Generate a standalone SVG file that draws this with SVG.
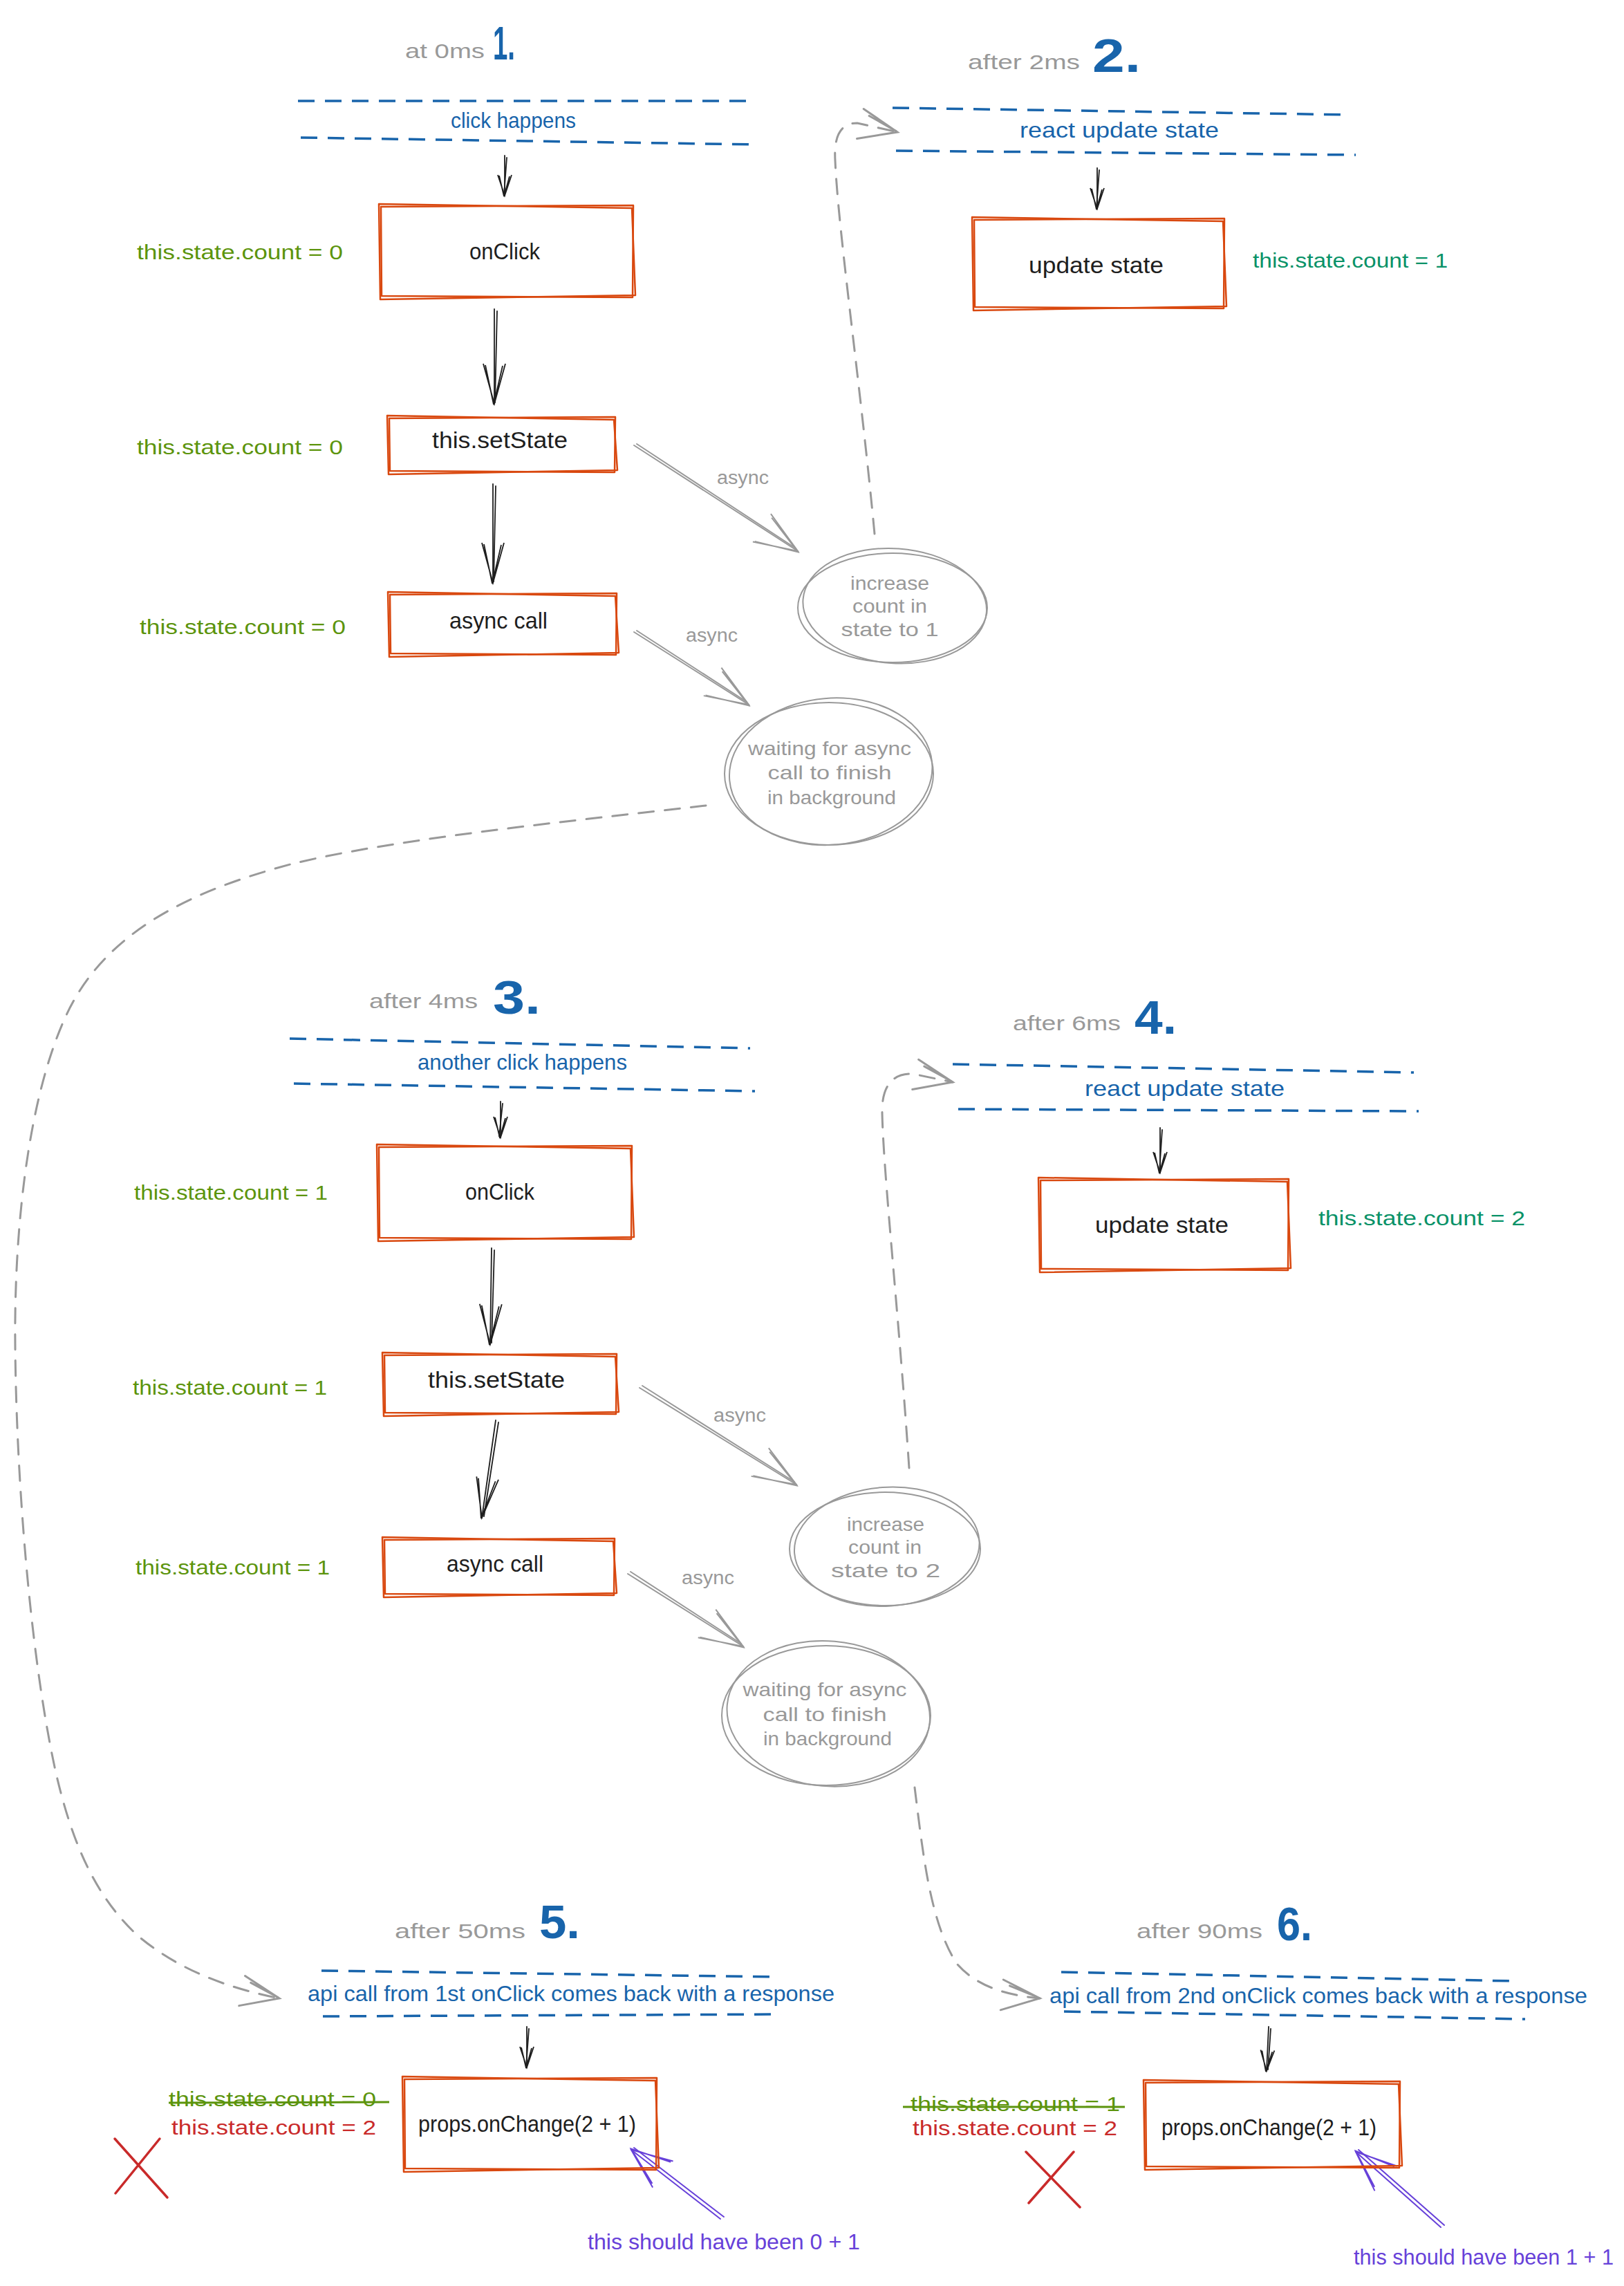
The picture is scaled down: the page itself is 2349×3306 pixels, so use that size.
<svg xmlns="http://www.w3.org/2000/svg" width="2349" height="3306" viewBox="0 0 2349 3306">
<defs>
<style>
text{font-family:"Liberation Sans",Arial,sans-serif}
.hdr{fill:#999;font-size:30px}
.num{fill:#1864ab;font-size:68px;font-weight:700}
.bl{fill:#1864ab;font-size:32px}
.bx{fill:#1e1e1e;font-size:33px}
.gr{fill:#5c940d;font-size:29px}
.tl{fill:#099268;font-size:29px}
.rd{fill:#c92a2a;font-size:29px}
.pu{fill:#6741d9;font-size:31px}
.as{fill:#999;font-size:27px}
.ct{fill:#999;font-size:28px;text-anchor:middle}
.band{fill:none;stroke:#1864ab;stroke-width:3.5;stroke-dasharray:24 15}
.box{fill:none;stroke:#d9480f;stroke-width:2.5;stroke-linejoin:round;stroke-linecap:round}
.circ{fill:none;stroke:#999;stroke-width:2}
.ab{fill:none;stroke:#1e1e1e;stroke-width:1.8;stroke-linecap:round}
.ag{fill:none;stroke:#999;stroke-width:2;stroke-linecap:round}
.dg{fill:none;stroke:#999;stroke-width:3;stroke-dasharray:22 16;stroke-linecap:round}
.ap{fill:none;stroke:#6741d9;stroke-width:2;stroke-linecap:round}
.strike{stroke:#5c940d;stroke-width:3}
.x{stroke:#c92a2a;stroke-width:3.5;stroke-linecap:round}
</style>
<marker id="hbL" markerUnits="userSpaceOnUse" viewBox="-80 -40 90 80" markerWidth="90" markerHeight="80" refX="0" refY="0" orient="auto" overflow="visible">
<path d="M-58,-16 L0,0 L-58,16 M-55,-12 L1,1 L-56,13" fill="none" stroke="#1e1e1e" stroke-width="1.8"/>
</marker>
<marker id="hbS" markerUnits="userSpaceOnUse" viewBox="-80 -40 90 80" markerWidth="90" markerHeight="80" refX="0" refY="0" orient="auto" overflow="visible">
<path d="M-30,-10 L0,0 L-30,10 M-28,-7 L1,1 L-29,8" fill="none" stroke="#1e1e1e" stroke-width="1.8"/>
</marker>
<marker id="hg" markerUnits="userSpaceOnUse" viewBox="-80 -40 90 80" markerWidth="90" markerHeight="80" refX="0" refY="0" orient="auto" overflow="visible">
<path d="M-62,-24 L0,0 L-62,24 M-58,-20 L1,1 L-60,22" fill="none" stroke="#999" stroke-width="2"/>
</marker>
<marker id="hgd" markerUnits="userSpaceOnUse" viewBox="-80 -40 90 80" markerWidth="90" markerHeight="80" refX="0" refY="0" orient="auto" overflow="visible">
<path d="M-55,-22 L0,0 L-55,22 M-45,-14 L-2,-1" fill="none" stroke="#999" stroke-width="3" stroke-linecap="round"/>
</marker>
<marker id="hp" markerUnits="userSpaceOnUse" viewBox="-80 -40 90 80" markerWidth="90" markerHeight="80" refX="0" refY="0" orient="auto" overflow="visible">
<path d="M-58,-24 L0,0 L-58,24 M-54,-20 L1,1 L-56,21" fill="none" stroke="#6741d9" stroke-width="2"/>
</marker>
</defs>
<rect x="0" y="0" width="2349" height="3306" fill="#ffffff"/>

<!-- connectors -->
<g id="connectors">
<path class="ab" d="M730,225 L730,283" marker-end="url(#hbS)"/><path class="ab" d="M733,228 L729,281"/>
<path class="ab" d="M715,447 L715,584" marker-end="url(#hbL)"/><path class="ab" d="M719,450 L716,582"/>
<path class="ab" d="M713,700 L713,843" marker-end="url(#hbL)"/><path class="ab" d="M717,703 L714,841"/>
<path class="ab" d="M1587,243 L1587,302" marker-end="url(#hbS)"/><path class="ab" d="M1590,246 L1586,300"/>
<path class="ab" d="M724,1593 L724,1645" marker-end="url(#hbS)"/><path class="ab" d="M727,1596 L722,1643"/>
<path class="ab" d="M711,1805 L709,1944" marker-end="url(#hbL)"/><path class="ab" d="M715,1808 L711,1942"/>
<path class="ab" d="M717,2054 L697,2195" marker-end="url(#hbL)"/><path class="ab" d="M721,2057 L700,2193"/>
<path class="ab" d="M1678,1631 L1678,1696" marker-end="url(#hbS)"/><path class="ab" d="M1681,1634 L1677,1694"/>
<path class="ab" d="M762,2931 L762,2990" marker-end="url(#hbS)"/><path class="ab" d="M765,2934 L761,2988"/>
<path class="ab" d="M1835,2931 L1832,2995" marker-end="url(#hbS)"/><path class="ab" d="M1838,2934 L1834,2993"/>

<path class="ag" d="M917,644 L1154,797" marker-end="url(#hg)"/><path class="ag" d="M921,642 L1151,793"/>
<path class="ag" d="M917,914 L1083,1019" marker-end="url(#hg)"/><path class="ag" d="M921,912 L1080,1015"/>
<path class="ag" d="M925,2007 L1152,2147" marker-end="url(#hg)"/><path class="ag" d="M929,2004 L1149,2143"/>
<path class="ag" d="M908,2276 L1075,2381" marker-end="url(#hg)"/><path class="ag" d="M912,2273 L1072,2377"/>

<path class="dg" d="M1265,772 C1245,560 1212,330 1208,232 C1206,196 1216,178 1240,178 L1298,191" marker-end="url(#hgd)"/>
<path class="dg" d="M1021,1165 C800,1190 560,1215 420,1250 C270,1290 150,1350 95,1470 C40,1590 20,1780 22,1950 C24,2150 45,2400 80,2560 C105,2670 140,2745 200,2800 C260,2850 330,2875 404,2890" marker-end="url(#hgd)"/>
<path class="dg" d="M1315,2123 C1300,1900 1278,1700 1276,1610 C1275,1572 1290,1552 1320,1553 L1378,1565" marker-end="url(#hgd)"/>
<path class="dg" d="M1323,2585 C1335,2680 1345,2780 1384,2840 C1410,2870 1450,2885 1504,2890" marker-end="url(#hgd)"/>

<path class="ap" d="M1042,3209 L913,3109" marker-end="url(#hp)"/><path class="ap" d="M1047,3206 L917,3106"/>
<path class="ap" d="M2084,3221 L1961,3112" marker-end="url(#hp)"/><path class="ap" d="M2089,3218 L1965,3109"/>
</g>

<!-- section 1 -->
<g id="s1-title">
<text class="hdr" x="586" y="84" textLength="115" lengthAdjust="spacingAndGlyphs">at 0ms</text>
<text class="num" x="713" y="86" textLength="32" lengthAdjust="spacingAndGlyphs">1.</text>
</g>
<g id="s1-band">
<path class="band" d="M431,146 L1086,146"/>
<path class="band" d="M435,199 L1092,209"/>
<text class="bl" x="652" y="185" textLength="181" lengthAdjust="spacingAndGlyphs">click happens</text>
</g>
<g id="n-onclick-1">
<path class="box" d="M551,299 L916,297 L915,430 L552,428 Z"/>
<path class="box" d="M548,295 L914,301 L919,427 L550,433 Z"/>
<text class="bx" x="679" y="375" textLength="102" lengthAdjust="spacingAndGlyphs">onClick</text>
</g>
<g id="n-setstate-1">
<path class="box" d="M563,605 L890,603 L889,683 L564,681 Z"/>
<path class="box" d="M560,601 L888,607 L893,680 L562,686 Z"/>
<text class="bx" x="625" y="648" textLength="196" lengthAdjust="spacingAndGlyphs">this.setState</text>
</g>
<g id="n-asynccall-1">
<path class="box" d="M564,860 L892,858 L891,947 L565,945 Z"/>
<path class="box" d="M561,856 L890,862 L895,944 L563,950 Z"/>
<text class="bx" x="650" y="909" textLength="142" lengthAdjust="spacingAndGlyphs">async call</text>
</g>
<g id="s1-counts">
<text class="gr" x="198" y="375" textLength="298" lengthAdjust="spacingAndGlyphs">this.state.count = 0</text>
<text class="gr" x="198" y="657" textLength="298" lengthAdjust="spacingAndGlyphs">this.state.count = 0</text>
<text class="gr" x="202" y="917" textLength="298" lengthAdjust="spacingAndGlyphs">this.state.count = 0</text>
<text class="as" x="1037" y="700" textLength="75" lengthAdjust="spacingAndGlyphs">async</text>
<text class="as" x="992" y="928" textLength="75" lengthAdjust="spacingAndGlyphs">async</text>
</g>
<g id="n-increase-1">
<ellipse class="circ" cx="1291" cy="879" rx="137" ry="79"/>
<ellipse class="circ" cx="1294" cy="876" rx="133" ry="83" transform="rotate(4 1291 879)"/>
<text class="ct" x="1287" y="853" textLength="114" lengthAdjust="spacingAndGlyphs">increase</text>
<text class="ct" x="1287" y="886" textLength="108" lengthAdjust="spacingAndGlyphs">count in</text>
<text class="ct" x="1287" y="920" textLength="141" lengthAdjust="spacingAndGlyphs">state to 1</text>
</g>
<g id="n-waiting-1">
<ellipse class="circ" cx="1199" cy="1119" rx="151" ry="103"/>
<ellipse class="circ" cx="1202" cy="1116" rx="147" ry="106" transform="rotate(-5 1199 1119)"/>
<text class="ct" x="1200" y="1092" textLength="236" lengthAdjust="spacingAndGlyphs">waiting for async</text>
<text class="ct" x="1200" y="1127" textLength="179" lengthAdjust="spacingAndGlyphs">call to finish</text>
<text class="ct" x="1203" y="1163" textLength="186" lengthAdjust="spacingAndGlyphs">in background</text>
</g>

<!-- section 2 -->
<g id="s2-title">
<text class="hdr" x="1400" y="100" textLength="162" lengthAdjust="spacingAndGlyphs">after 2ms</text>
<text class="num" x="1580" y="104" textLength="70" lengthAdjust="spacingAndGlyphs">2.</text>
</g>
<g id="s2-band">
<path class="band" d="M1291,156 L1953,166"/>
<path class="band" d="M1296,218 L1961,224"/>
<text class="bl" x="1475" y="199" textLength="288" lengthAdjust="spacingAndGlyphs">react update state</text>
</g>
<g id="n-update-1">
<path class="box" d="M1409,318 L1771,316 L1770,446 L1410,444 Z"/>
<path class="box" d="M1406,314 L1769,320 L1774,443 L1408,449 Z"/>
<text class="bx" x="1488" y="395" textLength="195" lengthAdjust="spacingAndGlyphs">update state</text>
</g>
<g id="s2-count">
<text class="tl" x="1812" y="387" textLength="282" lengthAdjust="spacingAndGlyphs">this.state.count = 1</text>
</g>

<!-- section 3 -->
<g id="s3-title">
<text class="hdr" x="534" y="1458" textLength="157" lengthAdjust="spacingAndGlyphs">after 4ms</text>
<text class="num" x="713" y="1466" textLength="69" lengthAdjust="spacingAndGlyphs">3.</text>
</g>
<g id="s3-band">
<path class="band" d="M419,1502 L1085,1516"/>
<path class="band" d="M425,1567 L1092,1578"/>
<text class="bl" x="604" y="1547" textLength="303" lengthAdjust="spacingAndGlyphs">another click happens</text>
</g>
<g id="n-onclick-2">
<path class="box" d="M548,1659 L914,1657 L913,1792 L549,1790 Z"/>
<path class="box" d="M545,1655 L912,1661 L917,1789 L547,1795 Z"/>
<text class="bx" x="673" y="1735" textLength="100" lengthAdjust="spacingAndGlyphs">onClick</text>
</g>
<g id="n-setstate-2">
<path class="box" d="M556,1960 L892,1958 L891,2045 L557,2043 Z"/>
<path class="box" d="M553,1956 L890,1962 L895,2042 L555,2048 Z"/>
<text class="bx" x="619" y="2007" textLength="198" lengthAdjust="spacingAndGlyphs">this.setState</text>
</g>
<g id="n-asynccall-2">
<path class="box" d="M556,2227 L889,2225 L888,2307 L557,2305 Z"/>
<path class="box" d="M553,2223 L887,2229 L892,2304 L555,2310 Z"/>
<text class="bx" x="646" y="2273" textLength="140" lengthAdjust="spacingAndGlyphs">async call</text>
</g>
<g id="s3-counts">
<text class="gr" x="194" y="1735" textLength="280" lengthAdjust="spacingAndGlyphs">this.state.count = 1</text>
<text class="gr" x="192" y="2017" textLength="281" lengthAdjust="spacingAndGlyphs">this.state.count = 1</text>
<text class="gr" x="196" y="2277" textLength="281" lengthAdjust="spacingAndGlyphs">this.state.count = 1</text>
<text class="as" x="1032" y="2056" textLength="76" lengthAdjust="spacingAndGlyphs">async</text>
<text class="as" x="986" y="2291" textLength="76" lengthAdjust="spacingAndGlyphs">async</text>
</g>
<g id="n-increase-2">
<ellipse class="circ" cx="1280" cy="2240" rx="138" ry="82"/>
<ellipse class="circ" cx="1283" cy="2237" rx="134" ry="86" transform="rotate(-4 1280 2240)"/>
<text class="ct" x="1281" y="2214" textLength="112" lengthAdjust="spacingAndGlyphs">increase</text>
<text class="ct" x="1280" y="2247" textLength="106" lengthAdjust="spacingAndGlyphs">count in</text>
<text class="ct" x="1281" y="2281" textLength="158" lengthAdjust="spacingAndGlyphs">state to 2</text>
</g>
<g id="n-waiting-2">
<ellipse class="circ" cx="1195" cy="2481" rx="151" ry="101"/>
<ellipse class="circ" cx="1198" cy="2478" rx="147" ry="105" transform="rotate(5 1195 2481)"/>
<text class="ct" x="1193" y="2453" textLength="237" lengthAdjust="spacingAndGlyphs">waiting for async</text>
<text class="ct" x="1193" y="2489" textLength="179" lengthAdjust="spacingAndGlyphs">call to finish</text>
<text class="ct" x="1197" y="2524" textLength="186" lengthAdjust="spacingAndGlyphs">in background</text>
</g>

<!-- section 4 -->
<g id="s4-title">
<text class="hdr" x="1465" y="1490" textLength="156" lengthAdjust="spacingAndGlyphs">after 6ms</text>
<text class="num" x="1641" y="1495" textLength="61" lengthAdjust="spacingAndGlyphs">4.</text>
</g>
<g id="s4-band">
<path class="band" d="M1378,1539 L2045,1551"/>
<path class="band" d="M1386,1604 L2052,1607"/>
<text class="bl" x="1569" y="1585" textLength="289" lengthAdjust="spacingAndGlyphs">react update state</text>
</g>
<g id="n-update-2">
<path class="box" d="M1505,1707 L1864,1705 L1863,1837 L1506,1835 Z"/>
<path class="box" d="M1502,1703 L1862,1709 L1867,1834 L1504,1840 Z"/>
<text class="bx" x="1584" y="1783" textLength="193" lengthAdjust="spacingAndGlyphs">update state</text>
</g>
<g id="s4-count">
<text class="tl" x="1907" y="1772" textLength="299" lengthAdjust="spacingAndGlyphs">this.state.count = 2</text>
</g>

<!-- section 5 -->
<g id="s5-title">
<text class="hdr" x="571" y="2803" textLength="189" lengthAdjust="spacingAndGlyphs">after 50ms</text>
<text class="num" x="780" y="2803" textLength="59" lengthAdjust="spacingAndGlyphs">5.</text>
</g>
<g id="s5-band">
<path class="band" d="M465,2850 L1126,2859"/>
<path class="band" d="M467,2916 L1130,2913"/>
<text class="bl" x="445" y="2894" textLength="762" lengthAdjust="spacingAndGlyphs">api call from 1st onClick comes back with a response</text>
</g>
<g id="n-props-1">
<path class="box" d="M585,3007 L950,3005 L949,3138 L586,3136 Z"/>
<path class="box" d="M582,3003 L948,3009 L953,3135 L584,3141 Z"/>
<text class="bx" x="605" y="3083" textLength="315" lengthAdjust="spacingAndGlyphs">props.onChange(2 + 1)</text>
</g>
<g id="s5-counts">
<text class="gr" x="244" y="3046" textLength="300" lengthAdjust="spacingAndGlyphs">this.state.count = 0</text>
<line class="strike" x1="244" y1="3041" x2="563" y2="3040"/>
<text class="rd" x="248" y="3087" textLength="296" lengthAdjust="spacingAndGlyphs">this.state.count = 2</text>
<line class="x" x1="166" y1="3093" x2="242" y2="3178"/>
<line class="x" x1="231" y1="3093" x2="167" y2="3172"/>
<text class="pu" x="850" y="3253" textLength="394" lengthAdjust="spacingAndGlyphs">this should have been 0 + 1</text>
</g>

<!-- section 6 -->
<g id="s6-title">
<text class="hdr" x="1644" y="2803" textLength="182" lengthAdjust="spacingAndGlyphs">after 90ms</text>
<text class="num" x="1847" y="2806" textLength="51" lengthAdjust="spacingAndGlyphs">6.</text>
</g>
<g id="s6-band">
<path class="band" d="M1535,2852 L2190,2865"/>
<path class="band" d="M1539,2909 L2206,2920"/>
<text class="bl" x="1518" y="2897" textLength="778" lengthAdjust="spacingAndGlyphs">api call from 2nd onClick comes back with a response</text>
</g>
<g id="n-props-2">
<path class="box" d="M1657,3012 L2025,3010 L2024,3135 L1658,3133 Z"/>
<path class="box" d="M1654,3008 L2023,3014 L2028,3132 L1656,3138 Z"/>
<text class="bx" x="1680" y="3088" textLength="311" lengthAdjust="spacingAndGlyphs">props.onChange(2 + 1)</text>
</g>
<g id="s6-counts">
<text class="gr" x="1317" y="3053" textLength="303" lengthAdjust="spacingAndGlyphs">this.state.count = 1</text>
<line class="strike" x1="1306" y1="3047" x2="1627" y2="3047"/>
<text class="rd" x="1320" y="3088" textLength="296" lengthAdjust="spacingAndGlyphs">this.state.count = 2</text>
<line class="x" x1="1484" y1="3112" x2="1562" y2="3192"/>
<line class="x" x1="1553" y1="3112" x2="1488" y2="3186"/>
<text class="pu" x="1958" y="3275" textLength="376" lengthAdjust="spacingAndGlyphs">this should have been 1 + 1</text>
</g>
</svg>
